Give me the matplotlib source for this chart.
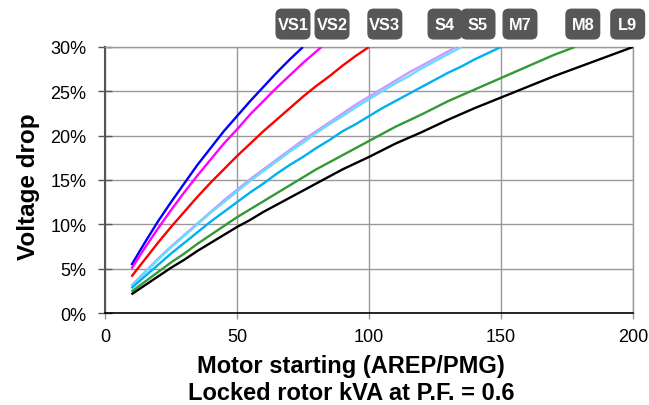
import matplotlib
matplotlib.use("Agg")
import matplotlib.pyplot as plt
from matplotlib.ticker import FuncFormatter
from matplotlib.patches import FancyBboxPatch
from matplotlib.offsetbox import DrawingArea, AnnotationBbox
from matplotlib.text import Text

plt.rcParams['font.family'] = ['Liberation Sans', 'DejaVu Sans']

names = ["VS1", "VS2", "VS3", "S4", "S5", "M7", "M8", "L9"]
colors = ["#0000ff", "#ff00ff", "#ff0000", "#cc99ff", "#66ddff", "#00b0f0", "#339933", "#000000"]

vs1_x = [10, 15, 20, 25, 30, 35, 40, 45, 50, 55, 60, 65, 70, 75]
vs1_y = [5.4, 7.9, 10.3, 12.5, 14.6, 16.7, 18.6, 20.5, 22.2, 23.9, 25.5, 27.1, 28.6, 30.0]
vs2_x = [10, 15, 20, 25, 30, 35, 40, 45, 50, 55, 60, 65, 70, 75, 82]
vs2_y = [5.0, 7.3, 9.5, 11.6, 13.6, 15.5, 17.3, 19.1, 20.7, 22.4, 23.9, 25.4, 26.8, 28.2, 30.0]
vs3_x = [10, 15, 20, 25, 30, 35, 40, 45, 50, 55, 60, 65, 70, 75, 80, 85, 90, 95, 100]
vs3_y = [4.1, 6.0, 7.9, 9.7, 11.4, 13.1, 14.7, 16.2, 17.7, 19.1, 20.5, 21.8, 23.1, 24.4, 25.6, 26.7, 27.9, 29.0, 30.0]
s4_x = [10, 15, 20, 25, 30, 35, 40, 45, 50, 55, 60, 65, 70, 75, 80, 85, 90, 95, 100, 105, 110, 115, 120, 125, 133]
s4_y = [3.1, 4.6, 6.1, 7.5, 8.8, 10.1, 11.4, 12.7, 13.9, 15.1, 16.2, 17.3, 18.4, 19.5, 20.5, 21.5, 22.5, 23.5, 24.4, 25.3, 26.2, 27.1, 27.9, 28.7, 30.0]
s5_x = [10, 15, 20, 25, 30, 35, 40, 45, 50, 55, 60, 65, 70, 75, 80, 85, 90, 95, 100, 105, 110, 115, 120, 125, 135]
s5_y = [3.0, 4.5, 6.0, 7.4, 8.7, 10.0, 11.3, 12.5, 13.7, 14.9, 16.0, 17.1, 18.2, 19.2, 20.3, 21.3, 22.2, 23.2, 24.1, 25.0, 25.9, 26.7, 27.6, 28.4, 30.0]
m7_x = [10, 15, 20, 25, 30, 35, 40, 45, 50, 55, 60, 65, 70, 75, 80, 85, 90, 95, 100, 105, 110, 115, 120, 125, 130, 135, 140, 145, 150]
m7_y = [2.8, 4.1, 5.4, 6.7, 7.9, 9.1, 10.3, 11.4, 12.5, 13.6, 14.6, 15.7, 16.7, 17.6, 18.6, 19.5, 20.5, 21.3, 22.2, 23.1, 23.9, 24.7, 25.5, 26.3, 27.1, 27.8, 28.6, 29.3, 30.0]
m8_x = [10, 15, 20, 25, 30, 35, 40, 45, 50, 55, 60, 65, 70, 75, 80, 85, 90, 95, 100, 110, 120, 130, 140, 150, 160, 170, 178]
m8_y = [2.4, 3.5, 4.6, 5.7, 6.7, 7.8, 8.8, 9.8, 10.8, 11.7, 12.6, 13.5, 14.4, 15.3, 16.2, 17.0, 17.8, 18.6, 19.4, 21.0, 22.4, 23.9, 25.2, 26.5, 27.8, 29.1, 30.0]
l9_x = [10, 15, 20, 25, 30, 35, 40, 45, 50, 55, 60, 65, 70, 75, 80, 85, 90, 95, 100, 110, 120, 130, 140, 150, 160, 170, 180, 190, 200]
l9_y = [2.1, 3.1, 4.1, 5.1, 6.0, 7.0, 7.9, 8.8, 9.7, 10.5, 11.4, 12.2, 13.0, 13.8, 14.6, 15.4, 16.2, 16.9, 17.6, 19.1, 20.4, 21.8, 23.1, 24.3, 25.5, 26.7, 27.8, 28.9, 30.0]

series_x = [vs1_x, vs2_x, vs3_x, s4_x, s5_x, m7_x, m8_x, l9_x]
series_y = [vs1_y, vs2_y, vs3_y, s4_y, s5_y, m7_y, m8_y, l9_y]
label_pos = [71.2, 86, 106, 128.8, 141.3, 157.2, 181, 198]

x_ticks = [0, 50, 100, 150, 200]
y_ticks = [0, 5, 10, 15, 20, 25, 30]

fig = plt.figure(figsize=(6.49, 4.06), dpi=100)
ax = fig.add_axes([0.1618, 0.2266, 0.8135, 0.6552])

for xs, ys, c in zip(series_x, series_y, colors):
    ax.plot(xs, ys, color=c, lw=1.7, solid_capstyle='butt', solid_joinstyle='round', zorder=3)

ax.set_xlim(0, 200)
ax.set_ylim(0, 30)
ax.set_xticks(x_ticks)
ax.set_yticks(y_ticks)
ax.yaxis.set_major_formatter(FuncFormatter(lambda v, p: f"{int(v)}%"))
ax.grid(True, color="#999999", lw=1.0, zorder=0)
for s in ["top", "right"]:
    ax.spines[s].set_color("#999999")
    ax.spines[s].set_linewidth(1.0)
ax.spines["left"].set_color("#555555")
ax.spines["left"].set_linewidth(1.5)
ax.spines["bottom"].set_color("#000000")
ax.spines["bottom"].set_linewidth(1.2)
ax.tick_params(axis='y', direction='inout', length=10, width=1, color="#555555", labelsize=13, pad=8.5)
ax.tick_params(axis='x', direction='out', length=4, width=1, color="#999999", labelsize=13, pad=7)

ax.set_ylabel("Voltage drop", fontsize=17.5, fontweight='bold', labelpad=7.5)
ax.yaxis.label.set_y(0.477)
ax.set_xlabel("Motor starting (AREP/PMG)\nLocked rotor kVA at P.F. = 0.6", fontsize=17,
              fontweight='bold', labelpad=6, linespacing=1.27)
ax.xaxis.label.set_x(0.466)

# badges: fixed-size rounded boxes (sizes in points)
bw, bh = 25.2, 22.3
for nm, xp in zip(names, label_pos):
    da = DrawingArea(bw, bh, 0, 0, clip=False)
    da.add_artist(FancyBboxPatch((0, 0), bw, bh, boxstyle='round,pad=0,rounding_size=4.5',
                                 fc='#575757', ec='none'))
    da.add_artist(Text(bw / 2, bh / 2 - 0.3, nm, ha='center', va='center', fontsize=11.8,
                       fontweight='bold', color='white'))
    ab = AnnotationBbox(da, (xp, 1.0), xycoords=('data', 'axes fraction'), xybox=(0, 16.5),
                        boxcoords='offset points', frameon=False, box_alignment=(0.5, 0.5),
                        pad=0, annotation_clip=False)
    ax.add_artist(ab)

fig.savefig("out.png", dpi=100)
